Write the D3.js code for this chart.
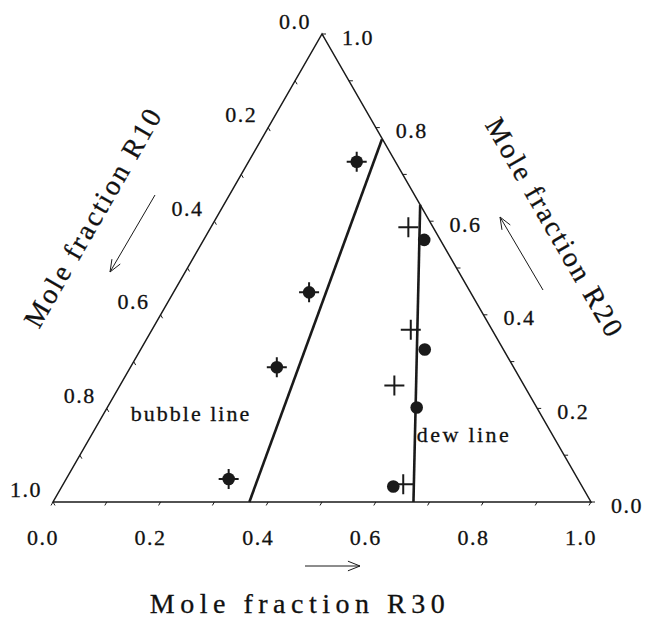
<!DOCTYPE html>
<html>
<head>
<meta charset="utf-8">
<script src="https://cdn.jsdelivr.net/npm/d3@7"></script>
<style>
  body { margin: 0; background: #fff; }
  svg text { font-family: 'Liberation Serif', 'Times New Roman', Times, serif; fill: #111; stroke: #111; stroke-width: 0.3; }
</style>
</head>
<body>
<svg id="chart" width="646" height="618"></svg>
<script>
// mole fractions (R10 = 1 - R30 - R20)
const tickValues = [0, 0.2, 0.4, 0.6, 0.8, 1.0];
const circleR30 = [0.201, 0.252, 0.272, 0.302, 0.410, 0.528, 0.575, 0.616];
const circleR20 = [0.727, 0.448, 0.288, 0.049, 0.560, 0.326, 0.202, 0.033];
const plusR30 = [0.201, 0.252, 0.272, 0.302, 0.367, 0.481, 0.510, 0.632];
const plusR20 = [0.727, 0.448, 0.288, 0.049, 0.587, 0.368, 0.249, 0.038];
const bubbleR30 = [0.224, 0.365];
const bubbleR20 = [0.775, 0];
const dewR30 = [0.365, 0.670];
const dewR20 = [0.635, 0];

const svg = d3.select('#chart');
const x = d3.scaleLinear().domain([0, 1]).range([53, 591]);
const y = d3.scaleLinear().domain([0, 1]).range([502, 34]);
const fmt = d3.format('.1f');

// ternary -> screen (R30 to the right, R20 to the top)
const proj = (r30, r20) => [x(r30 + r20 / 2), y(r20)];

// triangle frame
svg.append('path')
    .attr('d', d3.line()([proj(0, 0), proj(1, 0), proj(0, 1)]) + 'Z')
    .attr('fill', 'none')
    .attr('stroke', '#1a1a1a')
    .attr('stroke-width', 1.5);

// small ticks every 0.1
const minor = d3.range(0, 1.0001, 0.1);
const tickLen = 4;
const ticks = svg.append('g').attr('stroke', '#1a1a1a').attr('stroke-width', 1);
minor.forEach(v => {
    let [bx, by] = proj(v, 0);          // R30 along bottom
    ticks.append('line').attr('x1', bx).attr('y1', by)
        .attr('x2', bx - tickLen * 0.5).attr('y2', by + tickLen * 0.866);
    let [lx, ly] = proj(0, 1 - v);      // R10 along left side
    ticks.append('line').attr('x1', lx).attr('y1', ly)
        .attr('x2', lx + tickLen * 0.5).attr('y2', ly + tickLen * 0.866);
    let [rx, ry] = proj(1 - v, v);      // R20 along right side
    ticks.append('line').attr('x1', rx).attr('y1', ry)
        .attr('x2', rx + tickLen).attr('y2', ry);
});

// tick labels
const labels = svg.append('g')
    .attr('font-size', 22)
    .attr('letter-spacing', 1.5)
    .attr('text-anchor', 'middle')
    .attr('dominant-baseline', 'central');
tickValues.forEach(v => {
    let [bx, by] = proj(v, 0);
    labels.append('text').attr('x', bx - 10).attr('y', by + 35).text(fmt(v));
    let [lx, ly] = proj(0, 1 - v);
    labels.append('text').attr('x', lx - 27).attr('y', ly - 13).text(fmt(v));
    let [rx, ry] = proj(1 - v, v);
    labels.append('text').attr('x', rx + 36).attr('y', ry + 3).text(fmt(v));
});

// bubble and dew lines
const line = d3.line();
svg.append('path')
    .attr('d', line(bubbleR30.map((d, i) => proj(d, bubbleR20[i]))))
    .attr('fill', 'none').attr('stroke', '#1a1a1a').attr('stroke-width', 2.6);
svg.append('path')
    .attr('d', line(dewR30.map((d, i) => proj(d, dewR20[i]))))
    .attr('fill', 'none').attr('stroke', '#1a1a1a').attr('stroke-width', 2.6);

// plus symbols, then filled circles on top
const arm = 10;
plusR30.forEach((d, i) => {
    let [px, py] = proj(d, plusR20[i]);
    svg.append('path')
        .attr('d', `M${px - arm},${py}H${px + arm}M${px},${py - arm}V${py + arm}`)
        .attr('stroke', '#1a1a1a').attr('stroke-width', 2);
});
svg.selectAll('circle.pt')
    .data(circleR30)
    .join('circle')
    .attr('class', 'pt')
    .attr('cx', (d, i) => proj(d, circleR20[i])[0])
    .attr('cy', (d, i) => proj(d, circleR20[i])[1])
    .attr('r', 6.3)
    .attr('fill', '#1a1a1a');

// in-plot labels
svg.append('text').attr('x', 191).attr('y', 421).attr('font-size', 22)
    .attr('letter-spacing', 2).attr('text-anchor', 'middle').text('bubble line');
svg.append('text').attr('x', 464).attr('y', 442).attr('font-size', 22)
    .attr('letter-spacing', 2.4).attr('text-anchor', 'middle').text('dew line');

// axis titles
const title = (tx, ty, rot, txt, ls) => svg.append('text')
    .attr('transform', `translate(${tx},${ty}) rotate(${rot})`)
    .attr('font-size', 28)
    .attr('letter-spacing', ls)
    .attr('text-anchor', 'middle')
    .attr('dominant-baseline', 'central')
    .text(txt);
title(93, 217, -60, 'Mole fraction R10', 2.5);
title(555, 228, 60, 'Mole fraction R20', 2.5);
title(300, 603, 0, 'Mole fraction R30', 5.5);

// direction arrows
function arrow(x1, y1, x2, y2) {
    const a = Math.atan2(y2 - y1, x2 - x1), h = 13, s = 0.38;
    const g = svg.append('g').attr('stroke', '#1a1a1a').attr('stroke-width', 1).attr('fill', 'none');
    g.append('line').attr('x1', x1).attr('y1', y1).attr('x2', x2).attr('y2', y2);
    g.append('path').attr('d',
        `M${x2 - h * Math.cos(a - s)},${y2 - h * Math.sin(a - s)}L${x2},${y2}` +
        `L${x2 - h * Math.cos(a + s)},${y2 - h * Math.sin(a + s)}`);
}
arrow(155, 195, 110, 272);
arrow(543, 290, 500, 217);
arrow(305, 566, 360, 566);
</script>
</body>
</html>
